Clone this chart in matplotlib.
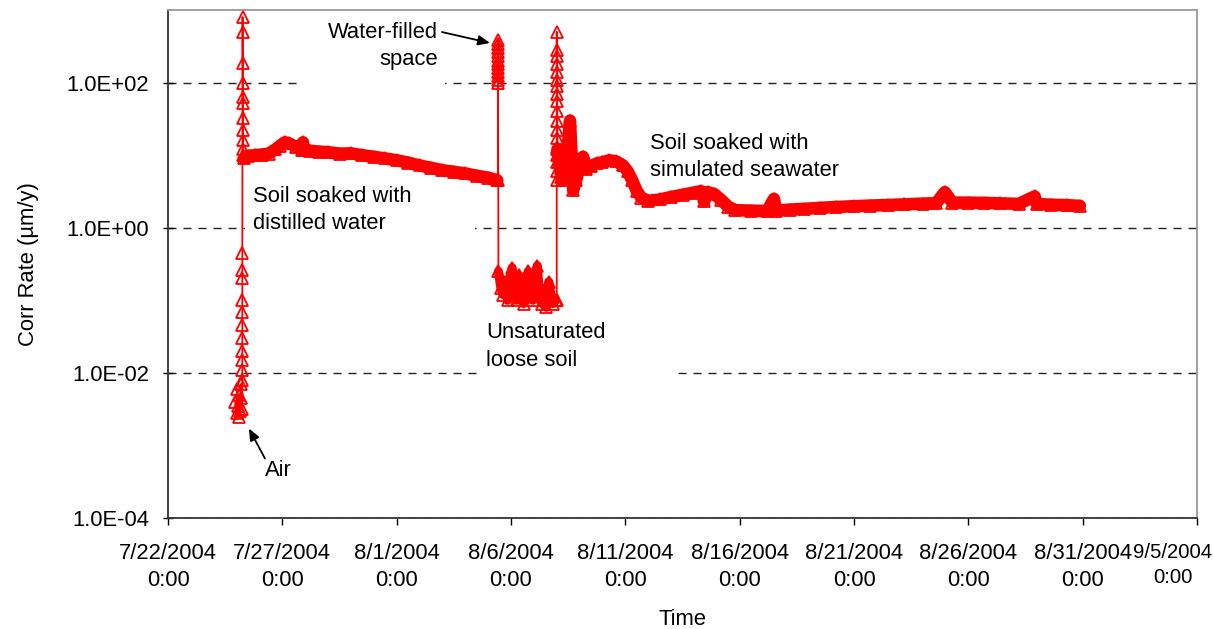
import numpy as np
import matplotlib
matplotlib.use("Agg")
import matplotlib.pyplot as plt
from matplotlib.patches import Rectangle
from matplotlib.ticker import NullLocator
from matplotlib.transforms import ScaledTranslation

plt.rcParams['font.family'] = ['Liberation Sans', 'DejaVu Sans']

# ---- data (time in days since 7/22/2004 0:00, corrosion rate in um/y) ----
air_days = [2.95, 3.0, 3.03, 3.06, 3.09, 3.12, 3.15, 3.18, 3.2, 3.23]
air_vals = [0.004, 0.0028, 0.006, 0.0035, 0.0025, 0.005, 0.003, 0.007, 0.0045, 0.0032]

spike1_days = [3.25, 3.25, 3.25, 3.25, 3.25, 3.25, 3.25, 3.25, 3.25, 3.25, 3.25,
               3.26, 3.26, 3.26, 3.26, 3.26, 3.26, 3.26, 3.26, 3.26, 3.26, 3.28]
spike1_vals = [0.008, 0.011, 0.015, 0.02, 0.03, 0.045, 0.07, 0.1, 0.2, 0.26, 0.45,
               12, 16, 22, 32, 52, 63, 100, 186, 500, 800, 10]

distilled_days = [3.32, 3.5, 3.8, 4.1, 4.4, 4.7, 4.9, 5.1, 5.3, 5.6, 5.85, 5.9, 5.95,
                  6.2, 6.6, 7.0, 7.5, 8.0, 8.5, 9.0, 9.5, 10.0, 10.5, 11.0, 11.5,
                  12.0, 12.5, 13.0, 13.5, 14.0, 14.4]
distilled_vals = [9, 9.8, 10, 10.2, 10.5, 12, 13.5, 15, 14.5, 13, 11.8, 15, 11.8,
                  11.5, 11.2, 11, 10.5, 10.6, 10, 9.5, 9, 8.5, 7.9, 7.2, 6.7,
                  6.2, 5.9, 5.6, 5.2, 4.9, 4.5]

spike2_days = [14.43, 14.43, 14.43, 14.43, 14.43, 14.43, 14.43, 14.43, 14.43,
               14.43, 14.43, 14.43, 14.43]
spike2_vals = [4.5, 100, 110, 125, 140, 160, 180, 200, 230, 260, 300, 340, 380]

unsat_days = [14.45, 14.55, 14.65, 14.75, 14.85, 14.95, 15.05, 15.15, 15.25, 15.35,
              15.45, 15.55, 15.65, 15.75, 15.85, 15.95, 16.05, 16.15, 16.25, 16.35,
              16.45, 16.55, 16.65, 16.75, 16.85, 16.95]
unsat_vals = [0.25, 0.15, 0.12, 0.18, 0.1, 0.2, 0.28, 0.14, 0.1, 0.22,
              0.12, 0.09, 0.16, 0.25, 0.13, 0.1, 0.2, 0.3, 0.12, 0.09,
              0.14, 0.08, 0.18, 0.12, 0.09, 0.1]

spike3_days = [17.0, 17.0, 17.0, 17.0, 17.0, 17.0, 17.0, 17.0, 17.0, 17.0,
               17.0, 17.0, 17.0, 17.0, 17.0, 17.0, 17.0, 17.0, 17.0]
spike3_vals = [0.1, 4.5, 6, 8, 10, 13, 17, 22, 30, 40,
               55, 70, 90, 110, 140, 180, 230, 280, 500]

sea_days = [17.03, 17.1, 17.2, 17.3, 17.4, 17.5, 17.58, 17.65, 17.72, 17.85,
            18.0, 18.15, 18.3, 18.5, 18.75, 19.0, 19.3, 19.6, 19.9, 20.1,
            20.3, 20.5, 20.7, 21.0, 21.5, 22.0, 22.5, 23.0, 23.3, 23.45,
            23.6, 23.9, 24.2, 24.5, 24.8, 25.5, 26.2, 26.5, 26.6, 27.2,
            27.8, 28.5, 29.2, 30.0, 30.7, 31.5, 32.2, 33.0, 33.6, 33.97,
            34.3, 35.0, 35.7, 36.4, 37.2, 37.9, 38.0, 38.6, 39.3, 39.88]
sea_vals = [12, 8, 5, 4.5, 6, 15, 30, 10, 3.3, 4.5,
            7, 9.5, 6.5, 7, 7.7, 8, 8.5, 8.2, 7.2, 6,
            4.5, 3.2, 2.6, 2.35, 2.45, 2.65, 2.85, 3.05, 3.2, 2.3,
            3.1, 2.9, 2.4, 1.95, 1.75, 1.72, 1.7, 2.5, 1.72, 1.78,
            1.82, 1.88, 1.93, 1.98, 2.02, 2.06, 2.1, 2.15, 2.18, 3.1,
            2.22, 2.22, 2.2, 2.17, 2.13, 2.7, 2.12, 2.08, 2.05, 2.0]

x_ticks = [0, 5, 10, 15, 20, 25, 30, 35, 40, 45]
x_tick_labels = ["7/22/2004\n0:00", "7/27/2004\n0:00", "8/1/2004\n0:00",
                 "8/6/2004\n0:00", "8/11/2004\n0:00", "8/16/2004\n0:00",
                 "8/21/2004\n0:00", "8/26/2004\n0:00", "8/31/2004\n0:00",
                 "9/5/2004\n0:00"]
y_ticks = [1e-4, 1e-2, 1e0, 1e2]
y_tick_labels = ["1.0E-04", "1.0E-02", "1.0E+00", "1.0E+02"]

# ---- figure ----
W, H = 1213, 629
fig = plt.figure(figsize=(W / 100, H / 100), dpi=100)
ax = fig.add_axes([168 / W, 1 - 518 / H, (1197 - 168) / W, (518 - 10) / H])

FS = 15.8
LS = 1.4
RED = '#ff0000'

all_days = np.concatenate([air_days, spike1_days, distilled_days, spike2_days,
                           unsat_days, spike3_days, sea_days])
all_vals = np.concatenate([air_vals, spike1_vals, distilled_vals, spike2_vals,
                           unsat_vals, spike3_vals, sea_vals])

# dense bands
for d, v, lw in [(distilled_days, distilled_vals, 9), (unsat_days, unsat_vals, 6.5),
                 (sea_days, sea_vals, 9)]:
    ax.plot(d, v, color=RED, lw=lw, solid_joinstyle='round',
            solid_capstyle='round', zorder=2)
ax.plot(all_days, all_vals, color=RED, lw=1.3, marker='^', markersize=8,
        markerfacecolor='none', markeredgecolor=RED, markeredgewidth=1.3, zorder=3)

ax.set_yscale('log')
ax.set_ylim(1e-4, 1e3)
ax.set_xlim(0, 45)
ax.set_yticks(y_ticks)
ax.set_yticklabels(y_tick_labels, fontsize=FS)
ax.yaxis.set_minor_locator(NullLocator())
ax.set_xticks(x_ticks)
ax.set_xticklabels(x_tick_labels, fontsize=FS, linespacing=LS)
ax.tick_params(axis='y', direction='inout', length=7, width=1, pad=10, colors='#000000')
ax.tick_params(axis='x', direction='out', length=5, width=1, pad=13)

# last x label is pulled inside the figure, as in the reference
last = ax.get_xticklabels()[-1]
last.set_fontsize(14.6)
last.set_transform(last.get_transform() + ScaledTranslation(-0.245, 0, fig.dpi_scale_trans))

ax.yaxis.grid(True, linestyle=(0, (5.8, 5)), color='#222222', lw=1.0)
ax.xaxis.grid(False)

for s in ['left', 'bottom']:
    ax.spines[s].set_color('#333333')
    ax.spines[s].set_linewidth(1.3)
for s in ['top', 'right']:
    ax.spines[s].set_color('#999999')
    ax.spines[s].set_linewidth(1.3)

ax.set_xlabel('Time', fontsize=FS, labelpad=13)
ax.set_ylabel('Corr Rate (\u00b5m/y)', fontsize=FS, labelpad=20)

# white label boxes (interrupt gridlines)
for (x0, x1, y0, y1) in [(5.77, 12.11, 84, 600), (3.37, 13.42, 0.67, 2.8),
                         (13.64, 22.17, 0.0079, 0.056)]:
    ax.add_patch(Rectangle((x0, y0), x1 - x0, y1 - y0, facecolor='white',
                           edgecolor='none', zorder=1.7))

ax.text(11.81, 318, 'Water-filled\nspace', ha='right', va='center', fontsize=FS,
        multialignment='right', linespacing=LS)
ax.text(3.72, 1.74, 'Soil soaked with\ndistilled water', ha='left', va='center',
        fontsize=FS, linespacing=LS)
ax.text(13.90, 0.0232, 'Unsaturated\nloose soil', ha='left', va='center',
        fontsize=FS, linespacing=LS)
ax.text(21.08, 9.38, 'Soil soaked with\nsimulated seawater', ha='left', va='center',
        fontsize=FS, linespacing=LS)
ax.text(4.24, 4.5e-4, 'Air', ha='left', va='center', fontsize=FS)

arrow = dict(arrowstyle='-|>,head_length=0.7,head_width=0.3', color='black', lw=1.3,
             shrinkA=0, shrinkB=0)
ax.annotate('', xy=(14.08, 351), xytext=(11.98, 497), arrowprops=arrow)
ax.annotate('', xy=(3.54, 1.71e-3), xytext=(4.24, 6.6e-4), arrowprops=arrow)

fig.savefig('out.png', dpi=100)
